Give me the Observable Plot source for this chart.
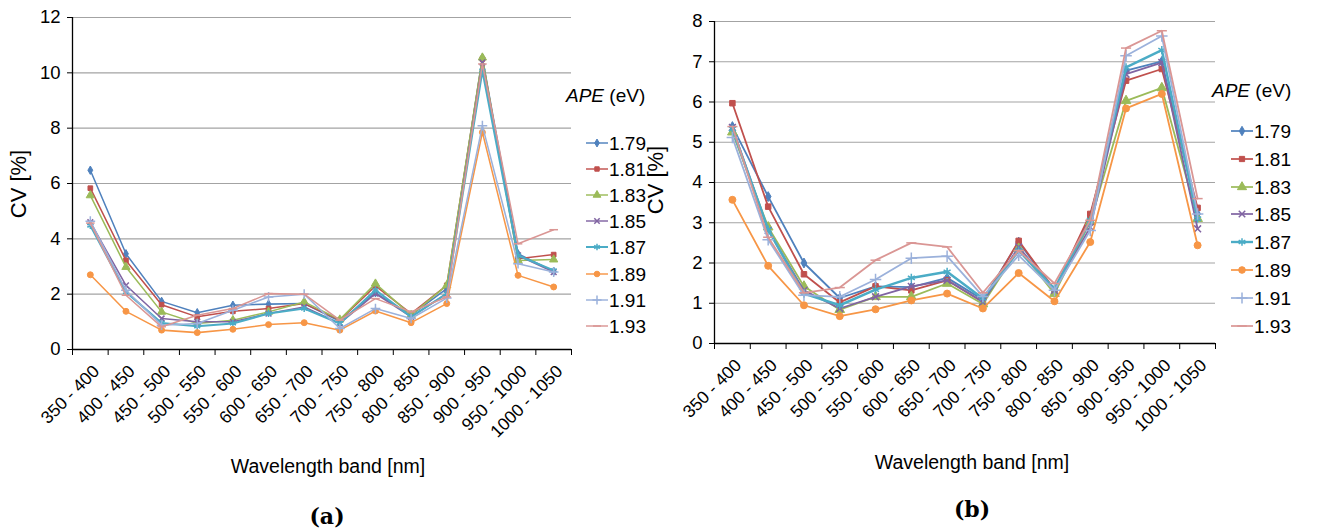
<!DOCTYPE html>
<html><head><meta charset="utf-8">
<script src="https://cdn.jsdelivr.net/npm/d3@7"></script>
<script src="https://cdn.jsdelivr.net/npm/@observablehq/plot@0.6"></script>
<style>
html,body{margin:0;padding:0;background:#fff;}
#root{position:relative;width:1319px;height:531px;overflow:hidden;font-family:"Liberation Sans",Arial,sans-serif;color:#000;}
.abs{position:absolute;white-space:nowrap;line-height:1;}
.plotbox{position:absolute;top:0;}
</style></head><body><div id="root"></div>
<script>
// ---- data ----
const bands = ["350 - 400","400 - 450","450 - 500","500 - 550","550 - 600","600 - 650","650 - 700",
  "700 - 750","750 - 800","800 - 850","850 - 900","900 - 950","950 - 1000","1000 - 1050"];
const apeLabels = ["1.79","1.81","1.83","1.85","1.87","1.89","1.91","1.93"];
const seriesColors = ["#4F81BD","#C0504D","#9BBB59","#8064A2","#4BACC6","#F79646","#9BB1DB","#DA9694"];
const seriesSymbols = ["diamond","square","triangle","times","asterisk","circle","plus","dash"];

// Panel (a): CV [%] per APE series, one row per series
const cvPanelA = [
  [6.48,3.46,1.74,1.33,1.60,1.64,1.66,1.02,2.05,1.24,2.20,10.55,3.46,2.82], // 1.79
  [5.83,3.22,1.62,1.18,1.38,1.48,1.66,1.06,2.30,1.30,2.32,10.50,3.28,3.43], // 1.81
  [5.57,2.98,1.36,0.94,1.06,1.36,1.72,1.08,2.38,1.24,2.32,10.55,3.22,3.25], // 1.83
  [4.60,2.32,1.12,1.00,1.00,1.30,1.54,0.94,2.02,1.18,2.02,10.38,3.40,2.80], // 1.85
  [4.48,2.08,0.96,0.84,0.94,1.30,1.48,0.94,2.15,1.18,2.02,10.08,3.40,2.86], // 1.87
  [2.70,1.38,0.70,0.61,0.73,0.90,0.97,0.70,1.39,0.97,1.66,7.85,2.68,2.26],  // 1.89
  [4.64,2.14,0.88,0.94,1.42,1.90,2.00,0.76,1.48,1.12,1.86,8.09,3.10,2.80],  // 1.91
  [4.57,1.96,0.82,1.24,1.48,2.02,2.00,1.06,1.84,1.36,1.90,10.32,3.82,4.33]  // 1.93
];
// Panel (b)
const cvPanelB = [
  [5.39,3.65,2.00,1.13,1.42,1.40,1.63,1.09,2.52,1.32,3.14,6.78,7.01,3.22], // 1.79
  [5.97,3.40,1.72,1.02,1.42,1.32,1.57,1.03,2.55,1.34,3.22,6.53,6.82,3.37], // 1.81
  [5.25,2.89,1.42,0.84,1.16,1.16,1.49,0.98,2.36,1.24,3.02,6.03,6.35,3.10], // 1.83
  [5.37,2.81,1.32,0.87,1.16,1.42,1.57,1.03,2.40,1.32,2.89,6.69,6.98,2.85], // 1.85
  [5.33,2.83,1.24,0.95,1.34,1.63,1.78,1.12,2.31,1.36,3.06,6.86,7.29,3.10], // 1.87
  [3.57,1.93,0.95,0.68,0.85,1.07,1.24,0.87,1.75,1.05,2.52,5.84,6.20,2.44], // 1.89
  [5.12,2.58,1.20,1.16,1.59,2.12,2.17,1.17,2.19,1.32,2.81,7.15,7.64,3.22], // 1.91
  [5.39,2.64,1.26,1.39,2.07,2.50,2.40,1.26,2.31,1.49,3.06,7.34,7.77,3.60]  // 1.93
];
const yTicksA = [0,2,4,6,8,10,12];
const yTicksB = [0,1,2,3,4,5,6,7,8];

// ---- helpers ----
const dashSymbol = {draw(ctx, size) { const w = Math.sqrt(size) * 0.75; ctx.moveTo(-w, 0); ctx.lineTo(w, 0); }};
const filledSym = new Set(["diamond","square","triangle","circle"]);
const symRadius = {diamond: 3.0, square: 3.1, triangle: 3.6, times: 3.2, asterisk: 3.8, circle: 3.5, plus: 3.8, dash: 3.8};
function plotSymbol(name) { return name === "dash" ? dashSymbol : name; }

function panel({values, yMax, yTicks, width, height, marginLeft, marginRight, marginTop, marginBottom, scale}) {
  const n = bands.length;
  const centers = bands.map((_, i) => i + 0.5);
  const bounds = d3.range(n + 1);
  const marks = [
    Plot.ruleY(yTicks.filter(t => t > 0), {stroke: "#a3a3a3", strokeWidth: 1.2}),
    Plot.axisY({ticks: yTicks, tickSize: 5, tickPadding: 7, fontSize: 18.5, label: null, tickFormat: d => String(d)}),
    Plot.axisX({ticks: bounds, tickSize: 6, tickFormat: () => "", label: null}),
    Plot.axisX({ticks: centers, tickSize: 0, tickRotate: -45, tickPadding: 19, dx: 6, fontSize: 17.5,
      tickFormat: d => bands[Math.floor(d)], label: null}),
    Plot.ruleX([0], {stroke: "#000", strokeWidth: 1.3}),
    Plot.ruleY([0], {stroke: "#000", strokeWidth: 1.3})
  ];
  values.forEach((vals, s) => {
    const rows = vals.map((v, i) => ({x: i + 0.5, y: v}));
    const sym = seriesSymbols[s];
    marks.push(Plot.line(rows, {x: "x", y: "y", stroke: seriesColors[s], strokeWidth: (s === 4 ? 2.5 : 1.8) * scale}));
    marks.push(Plot.dot(rows, {x: "x", y: "y", symbol: plotSymbol(sym), r: symRadius[sym] * scale,
      fill: filledSym.has(sym) ? seriesColors[s] : "none", stroke: seriesColors[s],
      strokeWidth: filledSym.has(sym) ? 1 : 1.5}));
  });
  return Plot.plot({
    width, height, marginLeft, marginRight, marginTop, marginBottom,
    x: {domain: [0, n], label: null},
    y: {domain: [0, yMax], label: null},
    style: {fontFamily: '"Liberation Sans", Arial, sans-serif', color: "#000", background: "transparent", overflow: "visible"},
    marks
  });
}

const root = document.getElementById("root");
function place(el, left) { el.classList.add("plotbox"); el.style.left = left + "px"; root.appendChild(el); }

place(panel({values: cvPanelA, yMax: 12, yTicks: yTicksA, width: 640, height: 450,
  marginLeft: 72, marginRight: 69, marginTop: 17, marginBottom: 101, scale: 0.85}), 0);
place(panel({values: cvPanelB, yMax: 8, yTicks: yTicksB, width: 679, height: 450,
  marginLeft: 74, marginRight: 104, marginTop: 21, marginBottom: 107, scale: 1}), 640);

function text(html, {x, y, size, anchor = "middle", rotate = 0, family, weight}) {
  const d = document.createElement("div");
  d.className = "abs";
  d.innerHTML = html;
  d.style.left = x + "px"; d.style.top = y + "px";
  d.style.fontSize = size + "px";
  if (family) d.style.fontFamily = family;
  if (weight) d.style.fontWeight = weight;
  const tx = anchor === "middle" ? "-50%" : "0";
  d.style.transform = `translate(${tx},-50%)`;
  if (rotate) { d.style.transform = `translate(-50%,-50%) rotate(${rotate}deg)`; }
  root.appendChild(d);
  return d;
}

// axis titles
text("CV [%]", {x: 19, y: 184, size: 22, rotate: -90});
text("CV [%]", {x: 656, y: 180, size: 22, rotate: -90});
text("Wavelength band [nm]", {x: 328, y: 467, size: 19.5});
text("Wavelength band [nm]", {x: 972, y: 463, size: 19.5});
// captions
text("(a)", {x: 327, y: 516, size: 22, family: '"DejaVu Serif", serif', weight: "bold"});
text("(b)", {x: 972, y: 509, size: 22, family: '"DejaVu Serif", serif', weight: "bold"});

// legends
function d3Sym(name) {
  return ({diamond: d3.symbolDiamond, square: d3.symbolSquare, triangle: d3.symbolTriangle, times: d3.symbolTimes,
    asterisk: d3.symbolAsterisk, circle: d3.symbolCircle, plus: d3.symbolPlus, dash: dashSymbol})[name];
}
function legend({titleX, titleY, itemX, itemY0, step, scale}) {
  text("<i>APE</i> (eV)", {x: titleX, y: titleY, size: 19, anchor: "start"});
  apeLabels.forEach((lab, s) => {
    const cy = itemY0 + s * step;
    const sym = seriesSymbols[s];
    const svg = d3.create("svg").attr("width", 24).attr("height", 14)
      .style("position", "absolute").style("left", itemX + "px").style("top", (cy - 7) + "px").style("overflow", "visible");
    svg.append("line").attr("x1", 1).attr("x2", 23).attr("y1", 7).attr("y2", 7)
      .attr("stroke", seriesColors[s]).attr("stroke-width", (s === 4 ? 2.5 : 1.8) * scale);
    const r = symRadius[sym] * scale;
    svg.append("path").attr("transform", "translate(12,7)")
      .attr("d", d3.symbol(d3Sym(sym), Math.PI * r * r)())
      .attr("fill", filledSym.has(sym) ? seriesColors[s] : "none")
      .attr("stroke", seriesColors[s]).attr("stroke-width", filledSym.has(sym) ? 1 : 1.5);
    root.appendChild(svg.node());
    text(lab, {x: itemX + 24, y: cy, size: 19, anchor: "start"});
  });
}
legend({titleX: 566, titleY: 95, itemX: 585, itemY0: 142.5, step: 26.2, scale: 0.8});
legend({titleX: 1212, titleY: 90, itemX: 1230, itemY0: 131, step: 27.8, scale: 0.95});
</script></body></html>
